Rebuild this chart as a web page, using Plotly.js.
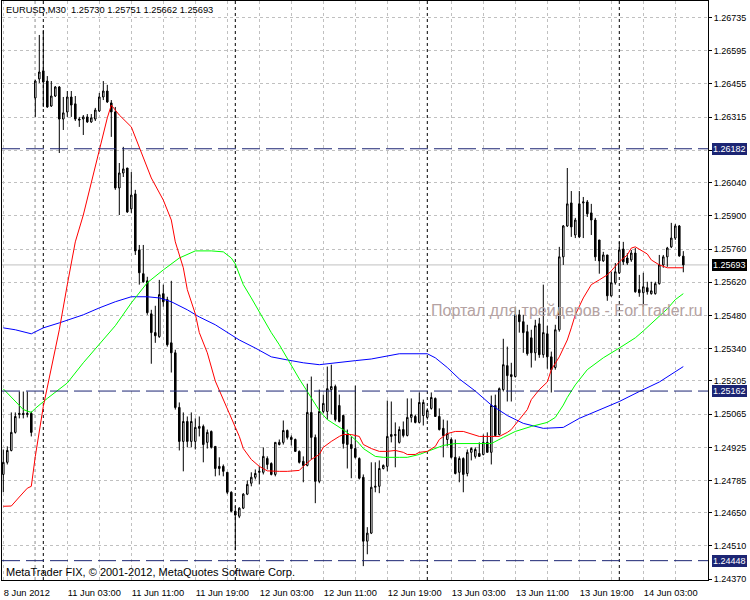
<!DOCTYPE html>
<html><head><meta charset="utf-8">
<script src="https://cdn.plot.ly/plotly-3.0.1.min.js"></script>
<style>html,body{margin:0;padding:0;background:#fff;}</style>
</head><body>
<div id="chart" style="width:750px;height:600px"></div>
<script>
const symbol = "EURUSD";
const timeframe = "M30";

const opens = [1.24811,1.24862,1.24912,1.24988,1.25063,1.25068,1.25063,1.25068,1.26396,1.26476,
1.26510,1.26467,1.26362,1.26404,1.26442,1.26307,1.26337,1.26400,1.26371,1.26307,
1.26307,1.26316,1.26295,1.26307,1.26341,1.26400,1.26425,1.26375,1.26337,1.26017,
1.26080,1.26101,1.25929,1.25992,1.25756,1.25656,1.25626,1.25487,1.25408,1.25391,
1.25572,1.25547,1.25365,1.25323,1.25093,1.24950,1.25034,1.24950,1.24950,1.25005,
1.25013,1.24946,1.24992,1.24929,1.24845,1.24845,1.24820,1.24736,1.24656,1.24635,
1.24669,1.24728,1.24774,1.24799,1.24820,1.24820,1.24878,1.24857,1.24811,1.24937,
1.24946,1.24996,1.24967,1.24958,1.24908,1.24866,1.24849,1.25072,1.24967,1.24782,
1.25076,1.25076,1.25168,1.25181,1.25101,1.25059,1.24979,1.24937,1.24920,1.24878,
1.24799,1.24530,1.24564,1.24757,1.24761,1.24836,1.24845,1.24971,1.24975,1.24946,
1.25000,1.24975,1.25051,1.25055,1.25030,1.25059,1.25051,1.25089,1.25131,1.25055,
1.25005,1.24958,1.24958,1.24883,1.24820,1.24878,1.24815,1.24904,1.24887,1.24899,
1.24895,1.24946,1.24904,1.25101,1.24979,1.25168,1.25269,1.25231,1.25223,1.25483,
1.25454,1.25412,1.25386,1.25323,1.25445,1.25315,1.25403,1.25306,1.25261,1.25420,
1.25727,1.25857,1.25954,1.25819,1.25950,1.25954,1.25958,1.25912,1.25882,1.25798,
1.25710,1.25735,1.25563,1.25618,1.25660,1.25760,1.25722,1.25714,1.25743,1.25589,
1.25576,1.25597,1.25572,1.25572,1.25614,1.25693,1.25727,1.25769,1.25806,1.25857,
1.25730];

const highs = [1.24916,1.24929,1.25072,1.25072,1.25160,1.25160,1.25160,1.25076,1.26472,1.26661,
1.26682,1.26488,1.26467,1.26446,1.26446,1.26400,1.26425,1.26425,1.26404,1.26316,
1.26324,1.26328,1.26328,1.26354,1.26417,1.26467,1.26451,1.26387,1.26358,1.26122,
1.26190,1.26101,1.26084,1.26009,1.25777,1.25777,1.25643,1.25504,1.25521,1.25630,
1.25610,1.25559,1.25626,1.25336,1.25114,1.25072,1.25055,1.25072,1.25047,1.25055,
1.25021,1.25000,1.24996,1.24929,1.24883,1.24853,1.24820,1.24740,1.24677,1.24673,
1.24732,1.24786,1.24820,1.24832,1.24845,1.24925,1.24887,1.24862,1.24946,1.24958,
1.25038,1.25000,1.24975,1.24962,1.24912,1.24887,1.25193,1.25223,1.24979,1.25168,
1.25147,1.25265,1.25273,1.25189,1.25147,1.25063,1.25000,1.24971,1.25185,1.24883,
1.24811,1.24589,1.24862,1.24862,1.24870,1.24853,1.25122,1.25118,1.25030,1.25013,
1.25034,1.25131,1.25131,1.25063,1.25156,1.25126,1.25089,1.25156,1.25135,1.25089,
1.25042,1.25038,1.24967,1.24958,1.24887,1.24883,1.24916,1.24925,1.24925,1.24946,
1.24979,1.24988,1.25143,1.25147,1.25177,1.25382,1.25349,1.25281,1.25517,1.25504,
1.25483,1.25441,1.25420,1.25462,1.25470,1.25610,1.25437,1.25328,1.25441,1.25769,
1.25861,1.26101,1.26004,1.25891,1.26004,1.25979,1.25966,1.25950,1.25891,1.25798,
1.25748,1.25735,1.25664,1.25701,1.25790,1.25790,1.25743,1.25756,1.25764,1.25651,
1.25660,1.25622,1.25622,1.25622,1.25735,1.25735,1.25769,1.25870,1.25865,1.25861,
1.25751];

const lows = [1.24736,1.24853,1.24908,1.24983,1.25047,1.25047,1.25051,1.24971,1.26316,1.26459,
1.26358,1.26354,1.26358,1.26400,1.26164,1.26261,1.26316,1.26316,1.26299,1.26274,
1.26240,1.26291,1.26291,1.26299,1.26337,1.26387,1.26375,1.26232,1.26009,1.25903,
1.26063,1.25912,1.25912,1.25735,1.25610,1.25618,1.25483,1.25277,1.25365,1.25386,
1.25517,1.25349,1.25240,1.25084,1.24912,1.24824,1.24925,1.24925,1.24916,1.24971,
1.24862,1.24920,1.24920,1.24803,1.24807,1.24803,1.24728,1.24652,1.24492,1.24627,
1.24665,1.24724,1.24761,1.24790,1.24769,1.24811,1.24832,1.24807,1.24803,1.24933,
1.24937,1.24958,1.24933,1.24908,1.24857,1.24778,1.24845,1.24874,1.24690,1.24774,
1.25068,1.25042,1.25063,1.25034,1.25030,1.24920,1.24836,1.24795,1.24878,1.24790,
1.24425,1.24475,1.24560,1.24736,1.24732,1.24832,1.24824,1.24946,1.24841,1.24941,
1.24967,1.24971,1.25030,1.25026,1.25026,1.25017,1.25042,1.25084,1.25055,1.24996,
1.24883,1.24929,1.24878,1.24811,1.24778,1.24736,1.24803,1.24870,1.24878,1.24887,
1.24891,1.24904,1.24853,1.24971,1.24975,1.25160,1.25118,1.25118,1.25219,1.25408,
1.25323,1.25311,1.25261,1.25290,1.25302,1.25302,1.25256,1.25156,1.25252,1.25412,
1.25693,1.25853,1.25811,1.25806,1.25806,1.25806,1.25895,1.25819,1.25710,1.25656,
1.25706,1.25542,1.25559,1.25610,1.25656,1.25693,1.25693,1.25706,1.25576,1.25559,
1.25517,1.25568,1.25568,1.25568,1.25610,1.25681,1.25685,1.25764,1.25798,1.25727,
1.25662];

const closes = [1.24862,1.24912,1.24988,1.25055,1.25068,1.25063,1.25068,1.24988,1.26467,1.26505,
1.26463,1.26358,1.26404,1.26442,1.26307,1.26333,1.26400,1.26366,1.26307,1.26303,
1.26316,1.26295,1.26312,1.26345,1.26400,1.26425,1.26379,1.26337,1.26017,1.26080,
1.26097,1.25916,1.25987,1.25752,1.25660,1.25622,1.25492,1.25408,1.25395,1.25568,
1.25538,1.25357,1.25323,1.25093,1.24950,1.25034,1.24950,1.25034,1.25009,1.25013,
1.24937,1.24988,1.24925,1.24836,1.24836,1.24824,1.24736,1.24656,1.24640,1.24669,
1.24728,1.24769,1.24799,1.24815,1.24824,1.24887,1.24853,1.24811,1.24946,1.24946,
1.24996,1.24967,1.24958,1.24908,1.24862,1.24849,1.25072,1.24967,1.24782,1.25076,
1.25110,1.25172,1.25181,1.25042,1.25034,1.24941,1.24937,1.24920,1.24883,1.24795,
1.24530,1.24564,1.24757,1.24761,1.24836,1.24849,1.24971,1.24979,1.24979,1.25000,
1.24975,1.25051,1.25063,1.25030,1.25114,1.25114,1.25080,1.25135,1.25055,1.25000,
1.24975,1.24983,1.24883,1.24815,1.24878,1.24811,1.24904,1.24920,1.24916,1.24887,
1.24946,1.24904,1.25101,1.24975,1.25172,1.25273,1.25227,1.25223,1.25483,1.25454,
1.25408,1.25319,1.25323,1.25437,1.25315,1.25408,1.25306,1.25252,1.25420,1.25727,
1.25857,1.25950,1.25853,1.25882,1.25811,1.25958,1.25908,1.25882,1.25727,1.25710,
1.25735,1.25563,1.25618,1.25664,1.25756,1.25706,1.25701,1.25743,1.25580,1.25576,
1.25601,1.25580,1.25584,1.25614,1.25693,1.25727,1.25764,1.25806,1.25857,1.25731,
1.25693];

// Moving averages (bar index, price)
const redBars = [0,2,4,6,7,8,10,12,14,16,18,20,22,24,26,27,29,32,34,37,40,42,43,45,46,48,49,51,53,55,57,59,60,62,64,66,69,71,74,75,77,79,80,82,84,85,87,89,90,92,94,96,98,100,101,103,104,106,108,109,111,113,115,117,119,122,124,126,127,129,131,132,134,136,137,139,141,142,143,145,147,149,151,152,154,156,157,158,159,161,162,164,166,168,170];
const redMA = [1.24677,1.24678,1.24716,1.24753,1.24761,1.24887,1.25097,1.25261,1.25420,1.25610,1.25790,1.25903,1.26038,1.26185,1.26312,1.26366,1.26324,1.26274,1.26190,1.26059,1.25966,1.25882,1.25790,1.25681,1.25589,1.25487,1.25408,1.25323,1.25204,1.25126,1.25051,1.24971,1.24920,1.24874,1.24845,1.24826,1.24824,1.24824,1.24828,1.24845,1.24874,1.24895,1.24925,1.24950,1.24971,1.24979,1.24979,1.24971,1.24937,1.24920,1.24908,1.24908,1.24912,1.24904,1.24895,1.24895,1.24904,1.24908,1.24929,1.24958,1.24983,1.24992,1.24992,1.24983,1.24971,1.24971,1.24971,1.24988,1.25000,1.25042,1.25084,1.25126,1.25168,1.25200,1.25252,1.25306,1.25377,1.25428,1.25483,1.25554,1.25610,1.25630,1.25651,1.25668,1.25706,1.25735,1.25764,1.25769,1.25760,1.25739,1.25714,1.25693,1.25681,1.25681,1.25681];

const greenBars = [0,3,5,7,8,11,13,16,20,24,28,32,36,40,44,48,52,55,57,58,60,62,64,67,69,71,72,74,76,79,81,84,86,89,90,93,95,99,101,104,106,110,113,116,122,125,128,132,136,138,140,141,143,146,150,154,158,160,162,164,166,168,170];
const greenMA = [1.25171,1.25116,1.25084,1.25072,1.25089,1.25131,1.25156,1.25196,1.25281,1.25360,1.25437,1.25533,1.25618,1.25672,1.25722,1.25752,1.25752,1.25748,1.25722,1.25697,1.25610,1.25554,1.25495,1.25408,1.25357,1.25297,1.25273,1.25213,1.25160,1.25080,1.25042,1.25009,1.24988,1.24941,1.24920,1.24887,1.24883,1.24883,1.24883,1.24895,1.24908,1.24933,1.24941,1.24941,1.24941,1.24967,1.24992,1.25013,1.25030,1.25051,1.25103,1.25135,1.25188,1.25252,1.25302,1.25343,1.25386,1.25415,1.25445,1.25478,1.25508,1.25547,1.25572];

const blueBars = [0,3,7,10,14,20,24,28,32,36,39,42,46,49,53,56,59,63,67,71,75,79,84,88,92,96,99,106,108,111,114,118,122,126,130,135,140,144,149,154,159,164,170];
const blueMA = [1.25428,1.25420,1.25403,1.25428,1.25449,1.25483,1.25512,1.25538,1.25559,1.25559,1.25554,1.25538,1.25504,1.25474,1.25441,1.25408,1.25377,1.25343,1.25306,1.25293,1.25281,1.25273,1.25281,1.25290,1.25297,1.25311,1.25319,1.25319,1.25302,1.25261,1.25213,1.25162,1.25103,1.25059,1.25026,1.25005,1.25009,1.25047,1.25084,1.25118,1.25160,1.25200,1.25265];

// Horizontal levels, period separators (bar index) and axis labels
const levelLines = [1.26182, 1.25162, 1.24448];
const daySeparators = [8, 10, 58, 106, 154];
const xLabelBars = [0,16,32,48,64,80,96,112,128,144,160];
const xLabels = ["8 Jun 2012","11 Jun 03:00","11 Jun 11:00","11 Jun 19:00","12 Jun 03:00","12 Jun 11:00","12 Jun 19:00","13 Jun 03:00","13 Jun 11:00","13 Jun 19:00","14 Jun 03:00"];
const yTickValues = [1.26735,1.26595,1.26455,1.26315,1.26175,1.26040,1.25900,1.25760,1.25620,1.25480,1.25340,1.25205,1.25065,1.24925,1.24785,1.24650,1.24510,1.24370];
const yTickLabels = ["1.26735","1.26595","1.26455","1.26315","","1.26040","1.25900","1.25760","1.25620","1.25480","1.25340","1.25205","1.25065","1.24925","1.24785","1.24650","1.24510","1.24370"];

const n = closes.length;
const bars = Array.from({length: n}, (_, i) => i);
const last = n - 1;
const bidPrice = closes[last];

const FONT = 'Liberation Sans, Arial, sans-serif';
const NAVY = '#1c2573';

// x grid every 8 bars, labels every 16
const xGrid = [], xGridText = [];
for (let b = 0; b <= 176; b += 8) {
  xGrid.push(b);
  const idx = xLabelBars.indexOf(b);
  xGridText.push(idx >= 0 ? xLabels[idx] : '');
}

const traces = [
  {
    type: 'candlestick', x: bars, open: opens, high: highs, low: lows, close: closes,
    increasing: {line: {color: '#000', width: 1}, fillcolor: '#ffffff'},
    decreasing: {line: {color: '#000', width: 1}, fillcolor: '#000000'},
    whiskerwidth: 0, hoverinfo: 'skip', showlegend: false
  },
  {type: 'scatter', mode: 'lines', x: blueBars, y: blueMA, line: {color: '#0000ff', width: 1}, hoverinfo: 'skip'},
  {type: 'scatter', mode: 'lines', x: greenBars, y: greenMA, line: {color: '#00ff00', width: 1}, hoverinfo: 'skip'},
  {type: 'scatter', mode: 'lines', x: redBars, y: redMA, line: {color: '#ff0000', width: 1}, hoverinfo: 'skip'}
];

const shapes = [];
shapes.push({type: 'line', xref: 'paper', x0: 0, x1: 1, yref: 'y', y0: bidPrice, y1: bidPrice,
  line: {color: '#c0c0c0', width: 1}, layer: 'below'});
daySeparators.forEach(b => shapes.push({type: 'line', xref: 'x', x0: b, x1: b, yref: 'paper', y0: 0, y1: 1,
  line: {color: '#000', width: 1, dash: '3px,3px'}, layer: 'below'}));
levelLines.forEach(v => shapes.push({type: 'line', xref: 'paper', x0: 0, x1: 1, yref: 'y', y0: v, y1: v,
  line: {color: NAVY, width: 1, dash: '18px,6px'}, layer: 'above'}));

const nb = '\u00a0';
const annotations = [
  {xref: 'paper', yref: 'paper', x: 0, y: 1, xanchor: 'left', yanchor: 'top', xshift: 2, yshift: -2,
   showarrow: false, text: symbol + ',' + timeframe + nb + nb + opens[last].toFixed(5) + ' ' + highs[last].toFixed(5) + ' ' + lows[last].toFixed(5) + ' ' + closes[last].toFixed(5),
   font: {family: FONT, size: 9.3, color: '#000'}},
  {xref: 'paper', yref: 'paper', x: 0, y: 0, xanchor: 'left', yanchor: 'bottom', xshift: 2, yshift: 0,
   showarrow: false, text: 'MetaTrader FIX, © 2001-2012, MetaQuotes Software Corp.',
   font: {family: FONT, size: 11, color: '#000'}},
  {xref: 'paper', yref: 'paper', x: 1, y: 0.4646, xanchor: 'right', yanchor: 'middle', xshift: -3,
   showarrow: false, text: 'Портал для трейдеров - ForTrader.ru',
   font: {family: FONT, size: 16, color: '#b4a2a2'}}
];
levelLines.forEach(v => annotations.push({xref: 'paper', yref: 'y', x: 1, y: v, xanchor: 'left', yanchor: 'middle',
  xshift: 4, showarrow: false, text: v.toFixed(5), bgcolor: NAVY, borderpad: 1, borderwidth: 0,
  font: {family: FONT, size: 9, color: '#ffffff'}}));
annotations.push({xref: 'paper', yref: 'y', x: 1, y: bidPrice, xanchor: 'left', yanchor: 'middle',
  xshift: 4, showarrow: false, text: bidPrice.toFixed(5), bgcolor: '#000000', borderpad: 1, borderwidth: 0,
  font: {family: FONT, size: 9, color: '#ffffff'}});

const layout = {
  width: 750, height: 600,
  margin: {l: 2, r: 42, t: 1, b: 20, pad: 0},
  paper_bgcolor: '#ffffff', plot_bgcolor: '#ffffff',
  showlegend: false,
  boxgap: 0.45,
  font: {family: FONT, size: 9, color: '#000'},
  xaxis: {
    range: [-0.325, 176.175], tickmode: 'array', tickvals: xGrid, ticktext: xGridText,
    showgrid: true, gridcolor: '#c0c0c0', griddash: '3px,3px', gridwidth: 1,
    ticks: '', showline: true, linecolor: '#000', linewidth: 1, mirror: true,
    zeroline: false, rangeslider: {visible: false}, fixedrange: true,
    ticklabelposition: 'outside right', ticklabelstandoff: 4,
    tickfont: {family: FONT, size: 9.3, color: '#000'}
  },
  yaxis: {
    side: 'right', range: [1.243666, 1.26804], tickmode: 'array', tickvals: yTickValues, ticktext: yTickLabels,
    ticks: 'outside', ticklen: 3, tickcolor: '#000', tickwidth: 1,
    showgrid: true, gridcolor: '#c0c0c0', griddash: '3px,3px', gridwidth: 1,
    zeroline: false, showline: true, linecolor: '#000', linewidth: 1, mirror: true, fixedrange: true,
    tickfont: {family: FONT, size: 9, color: '#000'}
  },
  shapes: shapes,
  annotations: annotations
};

Plotly.newPlot('chart', traces, layout, {staticPlot: true, displayModeBar: false});
</script>
</body></html>
